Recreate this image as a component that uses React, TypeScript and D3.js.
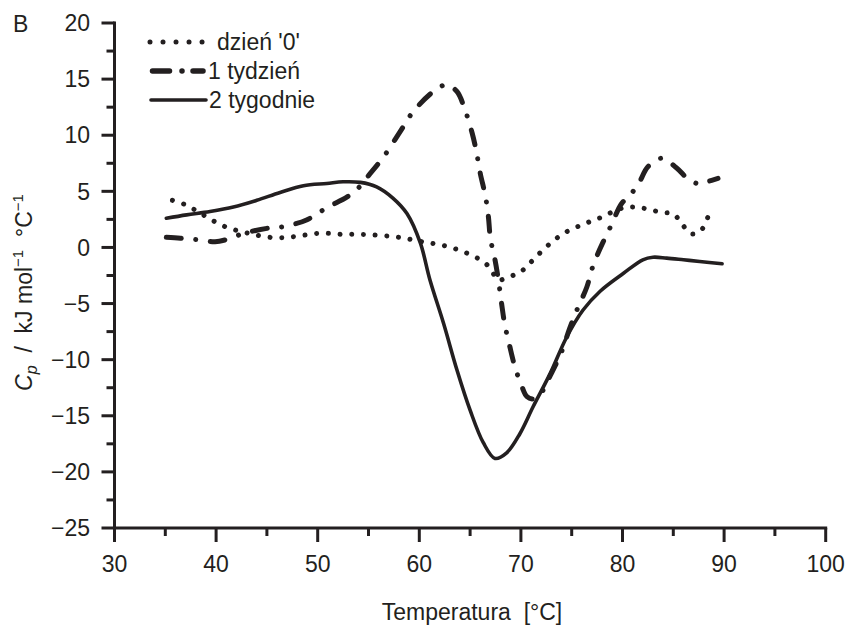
import React from "react";
import * as d3 from "d3";

const day0T = [35.7, 37.0, 38.2, 39.3, 40.5, 41.7, 43.0, 44.0, 45.3, 46.5, 47.6, 48.75, 49.9, 51.2, 52.4, 53.5, 54.7, 55.8, 57.1, 58.3, 59.4, 60.6, 61.7, 62.9, 64.1, 65.3, 66.5, 67.2, 67.7, 68.9, 70.0, 71.1, 72.2, 73.3, 74.4, 75.7, 76.8, 77.95, 79.1, 80.4, 81.6, 82.6, 83.9, 85.0, 85.8, 86.8, 87.8, 88.4];
const day0V = [4.2, 3.8, 3.2, 2.6, 2.0, 1.6, 1.3, 1.1, 0.9, 0.87, 0.96, 1.1, 1.25, 1.25, 1.17, 1.17, 1.15, 1.1, 1.0, 0.87, 0.67, 0.45, 0.3, 0.05, -0.3, -0.76, -1.4, -2.2, -2.9, -2.6, -2.15, -1.2, -0.2, 0.67, 1.35, 1.9, 2.3, 2.7, 3.2, 3.6, 3.55, 3.4, 3.1, 3.0, 2.15, 1.2, 1.6, 2.7];

const week1T = [35.1, 36.5, 38.1, 39.9, 41.0, 42.7, 45.0, 46.6, 48.9, 50.9, 52.9, 54.0, 55.0, 56.5, 58.1, 59.4, 61.4, 62.7, 63.7, 64.5, 65.2, 65.65, 66.0, 66.5, 66.8, 67.0, 67.45, 67.8, 68.1, 68.4, 68.9, 69.4, 70.1, 70.6, 71.3, 71.9, 72.9, 74.0, 74.8, 75.5, 76.5, 77.0, 77.6, 78.1, 78.9, 79.9, 80.7, 81.65, 82.5, 83.9, 85.3, 86.6, 87.6, 88.3, 89.4];
const week1V = [0.9, 0.82, 0.7, 0.5, 0.7, 1.25, 1.7, 1.85, 2.45, 3.55, 4.5, 5.3, 6.4, 8.1, 10.3, 12.1, 13.9, 14.5, 13.9, 12.25, 10.2, 8.4, 6.6, 4.6, 2.75, 0.8, -1.1, -3.0, -5.0, -6.8, -8.8, -10.6, -12.4, -13.3, -13.5, -13.1, -11.4, -9.3, -7.2, -5.6, -3.5, -1.9, -0.5, 0.5, 2.0, 3.9, 4.6, 5.8, 7.2, 7.95, 7.1, 6.0, 5.66, 5.85, 6.15];

const week2T = [35.1, 37.1, 39.4, 41.7, 44.0, 46.3, 48.6, 50.9, 52.5, 54.2, 55.8, 57.4, 58.8, 60.1, 61.05, 62.4, 63.7, 65.0, 66.3, 67.45, 68.6, 69.9, 71.2, 72.9, 74.5, 76.1, 77.8, 80.1, 82.0, 83.0, 84.35, 86.0, 87.6, 89.8];
const week2V = [2.6, 2.9, 3.2, 3.6, 4.2, 4.9, 5.5, 5.7, 5.85, 5.8, 5.4, 4.4, 3.0, 0.4, -2.9, -6.8, -10.9, -14.5, -17.4, -18.8, -18.3, -16.6, -14.2, -11.2, -8.0, -5.6, -3.9, -2.3, -1.1, -0.87, -0.95, -1.1, -1.25, -1.45];

const xTicks = [30, 40, 50, 60, 70, 80, 90, 100];
const yTicks = [20, 15, 10, 5, 0, -5, -10, -15, -20, -25];
const legendLabels = ["dzień '0'", "1 tydzień", "2 tygodnie"];

const FONT = "'Liberation Sans', Arial, Helvetica, sans-serif";
const INK = "#231f20";
const FS = 23;

export default function App() {
  const x = d3.scaleLinear().domain([30, 100]).range([114.5, 825.7]);
  const y = d3.scaleLinear().domain([-25, 20]).range([528, 23]);
  const line = d3
    .line<[number, number]>()
    .x((d) => x(d[0]))
    .y((d) => y(d[1]))
    .curve(d3.curveCatmullRom.alpha(0.5));

  const zip = (a: number[], b: number[]) => a.map((t, i) => [t, b[i]] as [number, number]);

  const xMinor = d3.range(35, 100, 10);
  const yMinor = d3.range(-22.5, 20, 5);

  const legendY = [42, 71, 100];

  return (
    <svg
      width={850}
      height={627}
      style={{ position: "absolute", left: 0, top: 0, background: "#fff" }}
      fontFamily={FONT}
    >
      <rect x={0} y={0} width={850} height={627} fill="#fff" />
      {/* Axes */}
      <g stroke={INK} strokeWidth={3} fill="none">
        <line x1={x(30)} x2={x(30)} y1={y(20) - 1.5} y2={y(-25)} />
        <line x1={x(30) - 1.5} x2={x(100) + 1.5} y1={y(-25)} y2={y(-25)} />
        {xTicks.map((t) => (
          <line key={"xt" + t} x1={x(t)} x2={x(t)} y1={y(-25)} y2={y(-25) + 14} />
        ))}
        {xMinor.map((t) => (
          <line key={"xm" + t} x1={x(t)} x2={x(t)} y1={y(-25)} y2={y(-25) + 8} />
        ))}
        {yTicks.map((t) => (
          <line key={"yt" + t} x1={x(30) - 13} x2={x(30)} y1={y(t)} y2={y(t)} />
        ))}
        {yMinor.map((t) => (
          <line key={"ym" + t} x1={x(30) - 8} x2={x(30)} y1={y(t)} y2={y(t)} />
        ))}
      </g>
      <g fill={INK} fontSize={FS}>
        {xTicks.map((t) => (
          <text key={"xl" + t} x={x(t)} y={571.5} textAnchor="middle">
            {t}
          </text>
        ))}
        {yTicks.map((t) => (
          <text key={"yl" + t} x={90} y={y(t) + 8.2} textAnchor="end">
            {t < 0 ? "\u2212" + Math.abs(t) : t}
          </text>
        ))}
        <text x={13} y={31.5}>B</text>
        <text x={472} y={620} textAnchor="middle" xmlSpace="preserve">
          {"Temperatura  [°C]"}
        </text>
        <text transform="translate(32,292.5) rotate(-90)" textAnchor="middle" xmlSpace="preserve">
          <tspan fontStyle="italic">C</tspan>
          <tspan fontStyle="italic" fontSize={16} dy={5}>p</tspan>
          <tspan dy={-5}>{"  /  kJ mol"}</tspan>
          <tspan fontSize={15} dy={-9}>{"\u22121"}</tspan>
          <tspan dy={9}>{"  °C"}</tspan>
          <tspan fontSize={15} dy={-9}>{"\u22121"}</tspan>
        </text>
      </g>
      {/* Curves */}
      <g fill="none" stroke={INK} strokeLinecap="round" strokeLinejoin="round">
        <path d={line(zip(day0T, day0V)) || ""} strokeWidth={5} strokeDasharray="0.01 11.7" />
        <path d={line(zip(week1T, week1V)) || ""} strokeWidth={5} strokeDasharray="15 14.5 0.01 14.5" />
        <path d={line(zip(week2T, week2V)) || ""} strokeWidth={3.6} />
      </g>
      {/* Legend */}
      <g fill="none" stroke={INK} strokeLinecap="round">
        <line x1={150} x2={202.5} y1={legendY[0]} y2={legendY[0]} strokeWidth={5} strokeDasharray="0.01 13" />
        <line x1={152.5} x2={205.5} y1={legendY[1]} y2={legendY[1]} strokeWidth={5.5} strokeDasharray="17 12.5 0.01 11 10 50" />
        <line x1={151} x2={206} y1={legendY[2]} y2={legendY[2]} strokeWidth={3.6} />
      </g>
      <g fill={INK} fontSize={FS}>
        <text x={217} y={legendY[0] + 8.2}>{legendLabels[0]}</text>
        <text x={208} y={legendY[1] + 8.2}>{legendLabels[1]}</text>
        <text x={209} y={legendY[2] + 8.2}>{legendLabels[2]}</text>
      </g>
    </svg>
  );
}
